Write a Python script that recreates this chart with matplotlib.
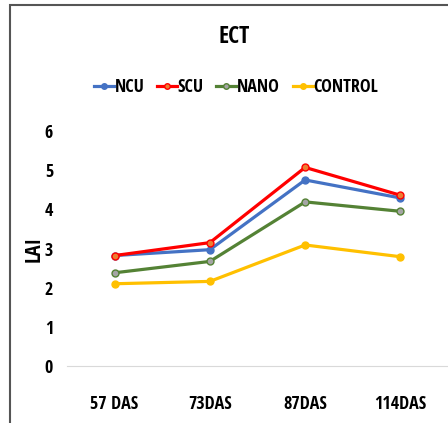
import matplotlib.pyplot as plt
from matplotlib.patches import Rectangle

days = ['57 DAS', '73DAS', '87DAS', '114DAS']
ncu = [2.82, 2.97, 4.75, 4.29]
scu = [2.82, 3.15, 5.07, 4.36]
nano = [2.38, 2.67, 4.19, 3.95]
control = [2.10, 2.16, 3.09, 2.79]

plt.rcParams['font.family'] = ['Open Sans Condensed', 'DejaVu Sans']
plt.rcParams['font.weight'] = 'bold'

fig = plt.figure(figsize=(4.48, 4.23), dpi=100)
ax = fig.add_axes([67 / 448, 1 - 366 / 423, 1 - 67 / 448, (366 - 131) / 423])

# outer frame of the chart area
fig.patches.append(Rectangle((10 / 448, -0.1), 1.2, 1.1 - 5 / 423, transform=fig.transFigure,
                             fill=False, edgecolor='#555555', linewidth=1.5))

x = range(len(days))
series = [
    ('NCU', ncu, '#4472C4', '#4472C4'),
    ('SCU', scu, '#FF0000', '#ED7D31'),
    ('NANO', nano, '#548235', '#A5A5A5'),
    ('CONTROL', control, '#FFC000', '#FFC000'),
]
for label, vals, col, mfc in series:
    ax.plot(x, vals, color=col, lw=2.3, marker='o', ms=5, mfc=mfc, mec=col, mew=1, label=label)

ax.set_xlim(-0.5, len(days) - 0.5)
ax.set_ylim(0, 6)
ax.set_yticks(range(7))
ax.set_xticks(list(x))
ax.set_xticklabels(days)
ax.tick_params(length=0, labelsize=13)
ax.tick_params(axis='x', pad=21)
ax.tick_params(axis='y', pad=10)
for s in ['top', 'right', 'left']:
    ax.spines[s].set_visible(False)
ax.spines['bottom'].set_color('#D9D9D9')
ax.set_ylabel('LAI', fontsize=15, fontweight='bold', labelpad=0)

fig.text(234 / 448, 1 - 37 / 423, 'ECT', ha='center', va='center', fontsize=17, fontweight='bold')
fig.legend(loc='center', bbox_to_anchor=(236 / 448, 1 - 87 / 423), ncol=4, frameon=False,
           fontsize=13, handlelength=1.1, handletextpad=0.05, columnspacing=0.7, markerscale=0.8)

fig.savefig('out.png', dpi=100)
